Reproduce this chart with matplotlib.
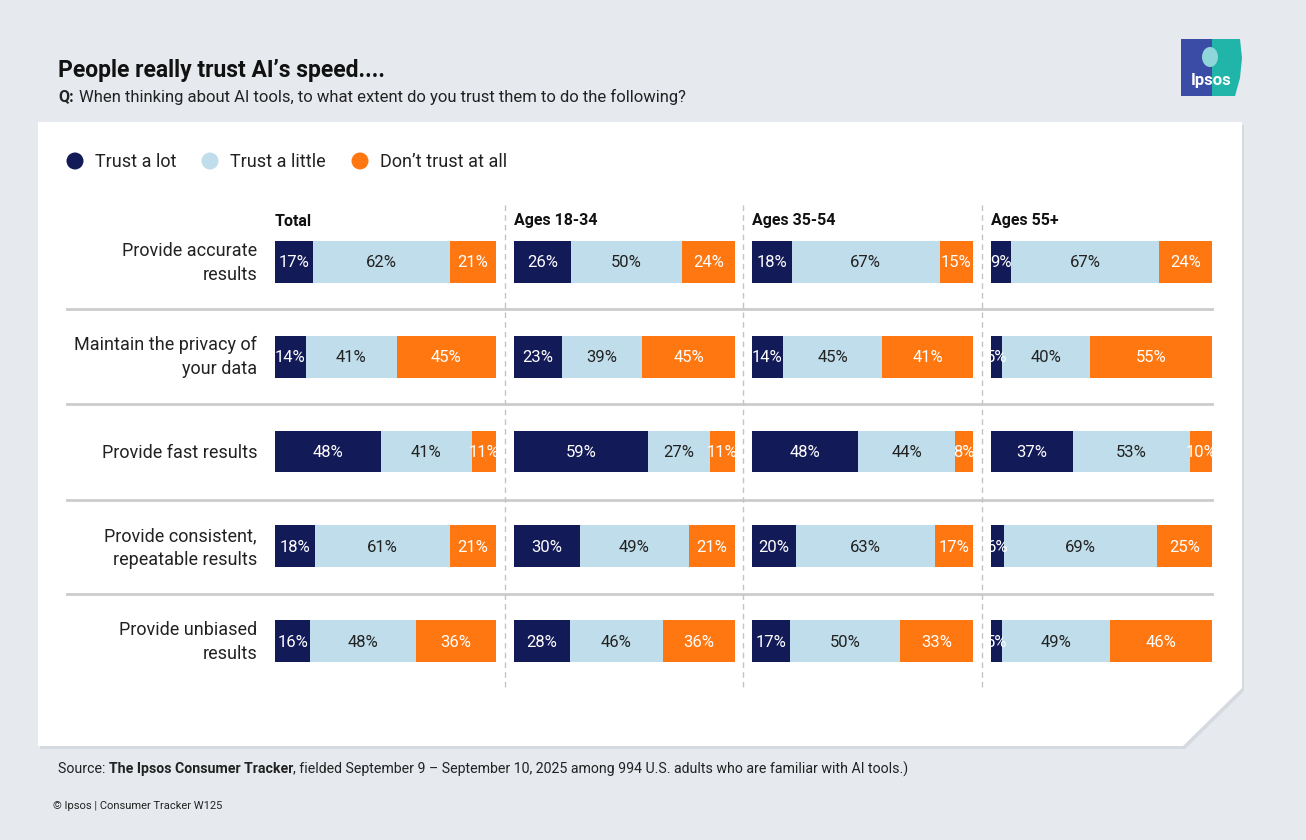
import numpy as np
import matplotlib.pyplot as plt
from matplotlib.patches import Polygon, Rectangle, Circle, Ellipse

plt.rcParams['font.family'] = ['Roboto', 'DejaVu Sans']

# data
items = ["Provide accurate\nresults", "Maintain the privacy of\nyour data",
         "Provide fast results", "Provide consistent,\nrepeatable results",
         "Provide unbiased\nresults"]
groups = ["Total", "Ages 18-34", "Ages 35-54", "Ages 55+"]
series = ["Trust a lot", "Trust a little", "Don\u2019t trust at all"]

total = [[17, 62, 21], [14, 41, 45], [48, 41, 11], [18, 61, 21], [16, 48, 36]]
age_18_34 = [[26, 50, 24], [23, 39, 45], [59, 27, 11], [30, 49, 21], [28, 46, 36]]
age_35_54 = [[18, 67, 15], [14, 45, 41], [48, 44, 8], [20, 63, 17], [17, 50, 33]]
age_55 = [[9, 67, 24], [5, 40, 55], [37, 53, 10], [6, 69, 25], [5, 49, 46]]
panels = [total, age_18_34, age_35_54, age_55]

colors = ["#131A58", "#BFDDEA", "#FF7711"]
txtcol = ["white", "#222222", "white"]
bgcol = "#E6E9EE"

W, H = 1306, 840
fig = plt.figure(figsize=(W / 100, H / 100), dpi=100, facecolor=bgcol)

# background axes in pixel coords
bg = fig.add_axes([0, 0, 1, 1])
bg.set_xlim(0, W)
bg.set_ylim(H, 0)
bg.axis('off')

# card with cut corner + faint shadow
card = [(38, 122), (1242, 122), (1242, 688), (1183, 746), (38, 746)]
shadow = [(x + 2, y + 3) for x, y in card]
bg.add_patch(Polygon(shadow, closed=True, fc="#D5D9E0", ec="none", zorder=0))
bg.add_patch(Polygon(card, closed=True, fc="white", ec="none", zorder=1))

# title
bg.text(58, 71, "People really trust AI\u2019s speed....", fontsize=16.5, fontweight='bold',
        color="#111111", va='center', ha='left')
bg.text(58, 97, "Q:", fontsize=11.5, fontweight='bold', color="#222222", va='center')
bg.text(79, 97, "When thinking about AI tools, to what extent do you trust them to do the following?",
        fontsize=12, color="#222222", va='center')

# logo
bg.add_patch(Rectangle((1181, 39), 32, 57, fc="#3B4CA6", ec="none", zorder=2))
bg.add_patch(Polygon([(1212, 39), (1240, 39), (1242, 58), (1240, 78), (1235, 96), (1212, 96)],
                     closed=True, fc="#20B5A8", ec="none", zorder=2))
bg.add_patch(Ellipse((1210, 57), 16, 20, fc="#8FD6DA", ec="none", zorder=3))
bg.text(1211, 80, "Ipsos", fontsize=12, fontweight='bold', color="white",
        ha='center', va='center', zorder=4)

# legend
lx = [75, 210, 360]
for i, s in enumerate(series):
    bg.add_patch(Circle((lx[i], 161), 8.5, fc=colors[i], ec="none", zorder=3))
    bg.text(lx[i] + 20, 162, s, fontsize=13, color="#222222", va='center', ha='left', zorder=3)

# layout
px_left = [275, 514, 752, 991]
px_w = 221
row_y = [262, 356, 452, 547, 641]
step = 95
top = row_y[0] - step / 2
bot = row_y[-1] + step / 2

# separators
for k in range(len(items) - 1):
    y = (row_y[k] + row_y[k + 1]) / 2
    bg.plot([67, 1212], [y, y], color="#CCCCCC", lw=2, zorder=2)
for x in [505, 743, 982]:
    bg.plot([x, x], [205, 690], color="#C4C4C4", lw=1, ls=(0, (4, 3)), zorder=2)

# row labels
for k, it in enumerate(items):
    bg.text(257, row_y[k] + 1, it, fontsize=13, color="#222222", ha='right', va='center',
            linespacing=1.4, zorder=3)

# panels
for p, data in enumerate(panels):
    bg.text(px_left[p], 221, groups[p], fontsize=11.5, fontweight='bold', color="#111111",
            ha='left', va='center', zorder=3)
    ax = fig.add_axes([px_left[p] / W, 1 - bot / H, px_w / W, (bot - top) / H])
    ax.set_xlim(0, 100)
    ax.set_ylim(len(items) - 0.5, -0.5)
    ax.axis('off')
    arr = np.array(data, dtype=float)
    widths = arr / arr.sum(axis=1, keepdims=True) * 100
    ypos = np.arange(len(items))
    left = np.zeros(len(items))
    for j in range(3):
        ax.barh(ypos, widths[:, j], left=left, height=0.44, color=colors[j], edgecolor='none')
        for k in range(len(items)):
            ax.text(left[k] + widths[k, j] / 2, ypos[k] + 0.01, f"{int(arr[k, j])}%",
                    ha='center', va='center', fontsize=12, color=txtcol[j])
        left += widths[:, j]

# footer (pieces placed one after another)
fig.canvas.draw()
rend = fig.canvas.get_renderer()
x = 58
for s, wgt in [("Source: ", 'normal'), ("The Ipsos Consumer Tracker", 'bold'),
               (", fielded September 9 \u2013 September 10, 2025 among 994 U.S. adults who are familiar with AI tools.)", 'normal')]:
    t = bg.text(x, 769, s, fontsize=10.2, fontweight=wgt, color="#222222", va='center')
    bb = t.get_window_extent(renderer=rend)
    x += bb.width
bg.text(53, 806, "\u00a9 Ipsos | Consumer Tracker W125", fontsize=8, color="#222222", va='center')

fig.savefig("out.png", dpi=100, facecolor=bgcol)
